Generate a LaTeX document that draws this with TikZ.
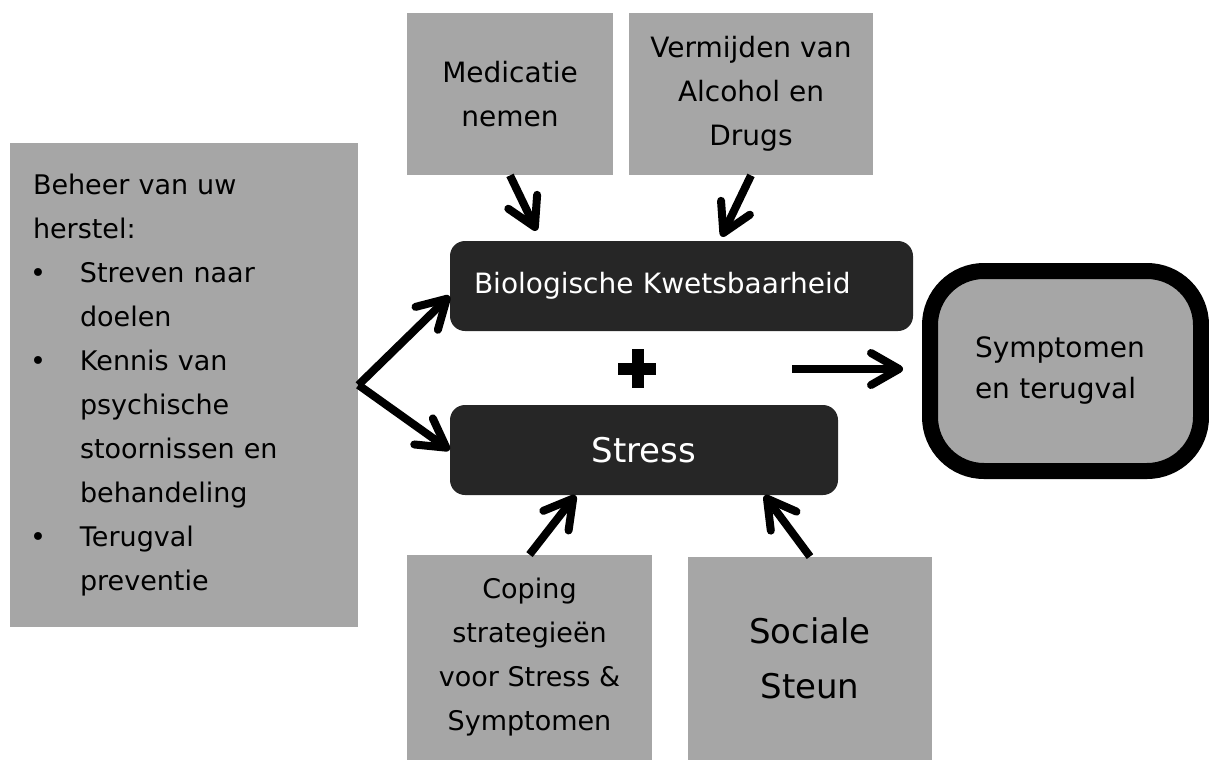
\documentclass[tikz,border=0pt]{standalone}
\usepackage{fontspec}
\setmainfont{DejaVu Sans}
\usepackage{xcolor}
\usepackage{tikz}
\usetikzlibrary{arrows.meta, positioning}
\definecolor{figgrey}{RGB}{166,166,166}
\definecolor{figdark}{RGB}{38,38,38}
\newcommand{\itembul}{\makebox[23.5pt][l]{\hspace{-1.5pt}•}}
\newcommand{\itemind}{\hspace*{23.5pt}}
\tikzstyle{greybox} = [rectangle, fill=figgrey, inner sep=0pt,
align=center, font=\fontsize{13.5}{22}\selectfont]
\tikzstyle{darkbox} = [rectangle, rounded corners=7.5pt,
fill=figdark, text=white, minimum height=45pt,
font=\fontsize{14}{22}\selectfont]
\tikzstyle{outcomebox} = [rectangle, rounded corners=27pt,
fill=figgrey, draw=black, line width=8pt,
align=left, font=\fontsize{14}{20.5}\selectfont]
\tikzstyle{arrow} = [-{Straight Barb[length=14pt, width=16pt, round]}, line width=4pt]

\begin{document}
\begin{tikzpicture}[x=0.5pt, y=-0.5pt]
    \useasboundingbox (0,0) rectangle (1209,760);
    \node (recov) [greybox, minimum width=174pt, minimum height=242pt,
    text width=151pt, align=left] at (184,385)
    {Beheer van uw\\herstel:\\\itembul Streven naar\\\itemind doelen\\
    \itembul Kennis van\\\itemind psychische\\\itemind stoornissen en\\
    \itemind behandeling\\\itembul Terugval\\\itemind preventie};
    \node (med) [greybox, minimum width=103pt, minimum height=81pt,
    font=\fontsize{14}{22}\selectfont] at (510,94) {Medicatie\\nemen};
    \node (verm) [greybox, minimum width=122pt, minimum height=81pt,
    font=\fontsize{14}{22}\selectfont] at (751,94) {Vermijden van\\Alcohol en\\Drugs};
    \node (bio) [darkbox, minimum width=231.5pt, text width=207.5pt,
    inner xsep=12pt, align=left] at (681.5,286) {Biologische Kwetsbaarheid};
    \node (stress) [darkbox, minimum width=194pt,
    font=\fontsize{17}{22}\selectfont] at (644,450) {Stress};
    \node (symp) [outcomebox, minimum width=135.5pt, minimum height=100pt,
    text width=90.5pt] at (1065.5,371) {Symptomen\\en terugval};
    \node (cop) [greybox, minimum width=122.5pt, minimum height=102.5pt]
    at (529.5,657.5) {Coping\\strategieën\\voor Stress \&\\Symptomen};
    \node (soc) [greybox, minimum width=122pt, minimum height=101.5pt,
    font=\fontsize{17}{27.5}\selectfont] at (810,658.5) {Sociale\\Steun};

    % plus sign
    \fill (618,362.5) rectangle (656,375);
    \fill (631.5,349) rectangle (643.5,388);
    \coordinate (plusout) at (792,369);

    \draw[arrow] (recov.east) -- ([yshift=-5pt]bio.west);
    \draw[arrow] (recov.east) -- (stress.west);
    \draw[arrow] (med.south)  -- ([xshift=43.5pt, yshift=5pt]bio.north west);
    \draw[arrow] (verm.south) -- ([xshift=136pt, yshift=2pt]bio.north west);
    \draw[arrow] (cop.north)  -- ([xshift=63pt]stress.south west);
    \draw[arrow] (soc.north)  -- ([xshift=157.5pt]stress.south west);
    \draw[arrow] (plusout) -- ([xshift=-9.5pt, yshift=1pt]symp.west);
\end{tikzpicture}
\end{document}
